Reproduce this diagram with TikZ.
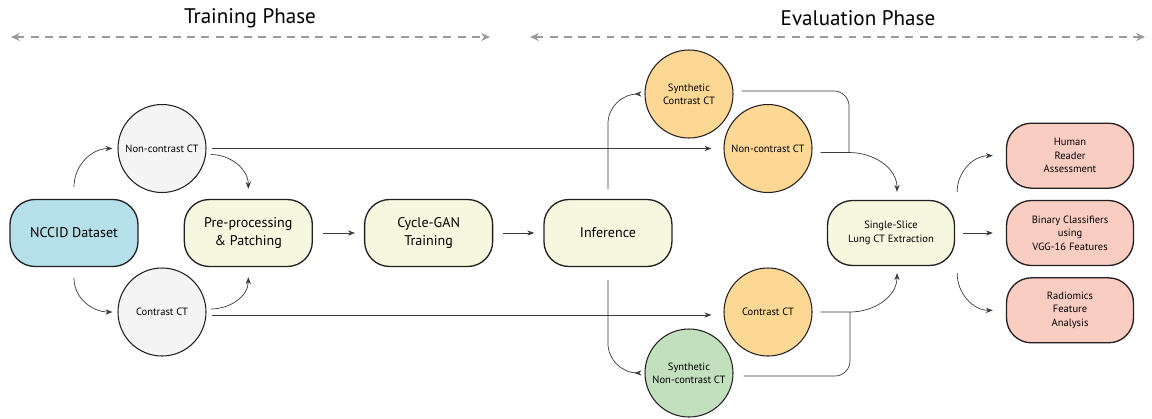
\documentclass[tikz,border=0pt]{standalone}
\usepackage{fontspec}
\setmainfont{PT Sans}
\usetikzlibrary{arrows.meta,positioning,calc}
\definecolor{dsblue}{HTML}{B5E0EA}
\definecolor{procfill}{HTML}{F5F7DF}
\definecolor{scangray}{HTML}{F4F4F4}
\definecolor{realorange}{HTML}{FDD894}
\definecolor{synthgreen}{HTML}{C2E0BE}
\definecolor{outpink}{HTML}{F9CDC2}
\definecolor{boxline}{HTML}{231F20}
\definecolor{linecol}{HTML}{3A3A3A}
\definecolor{phasegray}{HTML}{9A9A9A}

\begin{document}
\begin{tikzpicture}[
    box/.style={draw=boxline,line width=0.75pt,rounded corners=0.5cm,fill=procfill,
                minimum height=1.34cm,minimum width=2.56cm,
                font=\fontsize{8}{10.4}\selectfont,align=center},
    outbox/.style={box,fill=outpink,minimum height=1.3cm,minimum width=2.54cm,
                font=\fontsize{6}{7.6}\selectfont},
    scan/.style={circle,draw=boxline,line width=0.6pt,minimum size=1.76cm,inner sep=0pt,
                fill=scangray,font=\fontsize{6}{7.6}\selectfont,align=center},
    arr/.style={-{Stealth[length=4pt,width=3pt]},line width=0.4pt,linecol},
    line/.style={line width=0.4pt,linecol},
    phase/.style={{Stealth[length=5pt,width=4.5pt]}-{Stealth[length=5pt,width=4.5pt]},
                dash pattern=on 4.5pt off 3.6pt,line width=0.85pt,phasegray},
    node distance=0.9cm
  ]
    \useasboundingbox (0,-3.70) rectangle (23.04,4.66);
    % phases
    \node[font=\fontsize{12}{14}\selectfont] (train) at (5.0,4.30) {Training Phase};
    \node[font=\fontsize{12}{14}\selectfont] (eval) at (17.16,4.30) {Evaluation Phase};
    \coordinate (trainL) at (0.22,3.92);
    \coordinate (trainR) at (9.8,3.92);
    \coordinate (evalL) at (10.6,3.92);
    \coordinate (evalR) at (22.9,3.92);
    \draw[phase] (trainL) -- (trainR);
    \draw[phase] (evalL) -- (evalR);

    % main row
    \node[box,fill=dsblue] (nccid) at (1.48,0) {NCCID Dataset};
    \node[box,right=0.9cm of nccid] (prep) {Pre-processing\\\& Patching};
    \node[box,right=1.02cm of prep] (gan) {Cycle-GAN\\Training};
    \node[box,right=1.0cm of gan] (infer) {Inference};
    \node[box,font=\fontsize{6}{7.6}\selectfont,minimum height=1.3cm,minimum width=2.54cm]
      (extract) at (17.82,0) {Single-Slice\\Lung CT Extraction};
    \node[outbox] (binary) at (21.4,0) {Binary Classifiers\\using\\VGG-16 Features};
    \node[outbox,above=0.22cm of binary] (human) {Human\\Reader\\Assessment};
    \node[outbox,below=0.22cm of binary] (radio) {Radiomics\\Feature\\Analysis};

    % scans
    \node[scan] (nonL) at (3.24,1.69) {Non-contrast CT};
    \node[scan] (conL) at (3.24,-1.58) {Contrast CT};
    \node[scan,fill=realorange] (synC) at (13.78,2.78) {Synthetic\\Contrast CT};
    \node[scan,fill=realorange] (nonR) at (15.36,1.69) {Non-contrast CT};
    \node[scan,fill=realorange] (conR) at (15.36,-1.58) {Contrast CT};
    \node[scan,fill=synthgreen] (synN) at (13.78,-2.8) {Synthetic\\Non-contrast CT};
    \coordinate (jtop) at (16.98,1.61);
    \coordinate (jbot) at (17.0,-1.58);

    % training
    \draw[arr] ([yshift=0.24cm]nccid.north) to[out=90,in=180] ([xshift=-0.1cm]nonL.west);
    \draw[arr] ([yshift=-0.22cm]nccid.south) to[out=-90,in=180] ([xshift=-0.1cm]conL.west);
    \draw[arr] ([xshift=0.08cm,yshift=-0.12cm]nonL.east) to[out=0,in=90] ([yshift=0.2cm]prep.north);
    \draw[arr] ([xshift=0.08cm,yshift=0.06cm]conL.east) to[out=0,in=-90] ([yshift=-0.2cm]prep.south);
    \draw[arr] ([xshift=0.2cm]prep.east) -- ([xshift=-0.18cm]gan.west);
    \draw[arr] ([xshift=0.2cm]gan.east) -- ([xshift=-0.18cm]infer.west);

    % evaluation
    \draw[arr] ([xshift=0.1cm]nonL.east) -- ([xshift=-0.24cm]nonR.west);
    \draw[arr] ([xshift=0.1cm,yshift=-0.06cm]conL.east) -- ([xshift=-0.24cm,yshift=-0.06cm]conR.west);
    \draw[arr,rounded corners=0.6cm] ([yshift=0.2cm]infer.north) |- ([xshift=-0.2cm]synC.west);
    \draw[arr,rounded corners=0.6cm] ([yshift=-0.26cm]infer.south) |- ([xshift=-0.2cm]synN.west);
    \draw[line,rounded corners=0.3cm] ([xshift=0.16cm,yshift=0.06cm]synC.east) -| (jtop);
    \draw[line,rounded corners=0.3cm] ([xshift=0.2cm,yshift=-0.06cm]synN.east) -| (jbot);
    \draw[arr] ([xshift=0.16cm,yshift=-0.08cm]nonR.east) -- (jtop)
      to[out=0,in=90] ([xshift=0.12cm,yshift=0.16cm]extract.north);
    \draw[arr] ([xshift=0.16cm]conR.east) -- (jbot)
      to[out=0,in=-90] ([xshift=0.12cm,yshift=-0.14cm]extract.south);
    \draw[arr] ([xshift=0.04cm,yshift=0.16cm]extract.north east) to[out=90,in=180] ([xshift=-0.26cm]human.west);
    \draw[arr] ([xshift=0.16cm]extract.east) -- ([xshift=-0.26cm]binary.west);
    \draw[arr] ([xshift=0.04cm,yshift=-0.14cm]extract.south east) to[out=-90,in=180] ([xshift=-0.26cm]radio.west);
\end{tikzpicture}
\end{document}
